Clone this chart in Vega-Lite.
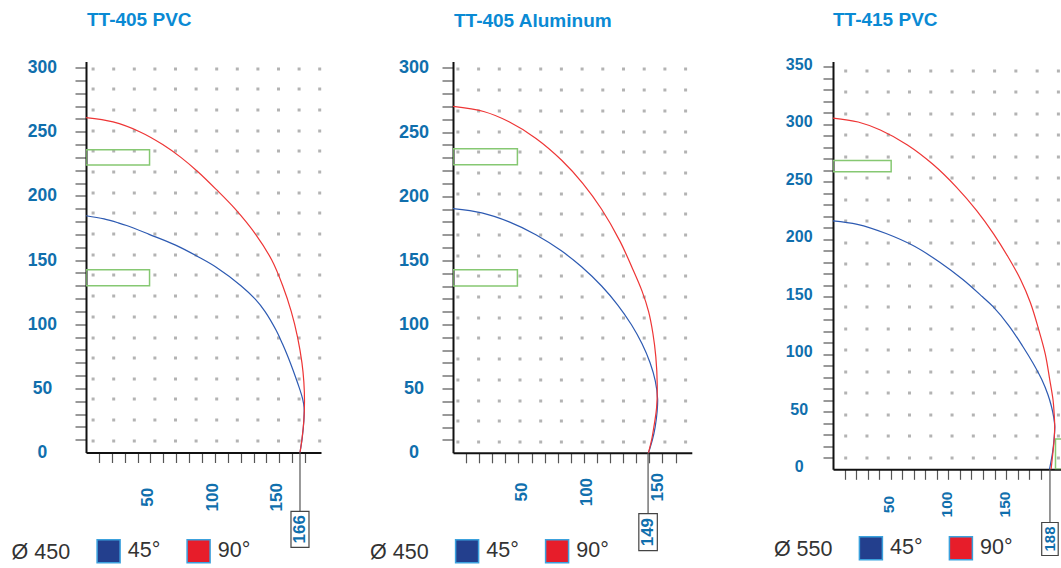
{
  "$schema": "https://vega.github.io/schema/vega-lite/v6.json",
  "padding": {"left": 11, "top": 10.5, "right": 0, "bottom": 0},
  "spacing": 49,
  "datasets": {
    "c1": [
      {"a": "45°", "x": 0, "y": 184.5}, {"a": "45°", "x": 14, "y": 182}, {"a": "45°", "x": 25, "y": 179}, {"a": "45°", "x": 31.5, "y": 176.9}, {"a": "45°", "x": 49, "y": 170}, {"a": "45°", "x": 69.5, "y": 161.6}, {"a": "45°", "x": 88, "y": 152}, {"a": "45°", "x": 101, "y": 144.4}, {"a": "45°", "x": 120.2, "y": 130}, {"a": "45°", "x": 131.3, "y": 119.5}, {"a": "45°", "x": 138.8, "y": 110}, {"a": "45°", "x": 147.6, "y": 95}, {"a": "45°", "x": 152.4, "y": 84.7}, {"a": "45°", "x": 156.5, "y": 75}, {"a": "45°", "x": 162.6, "y": 58.7}, {"a": "45°", "x": 165.6, "y": 50}, {"a": "45°", "x": 168, "y": 42}, {"a": "45°", "x": 169.2, "y": 35}, {"a": "45°", "x": 169, "y": 25}, {"a": "45°", "x": 167.8, "y": 12}, {"a": "45°", "x": 166, "y": 0},
      {"a": "90°", "x": 0, "y": 261}, {"a": "90°", "x": 21, "y": 257.6}, {"a": "90°", "x": 41.6, "y": 250}, {"a": "90°", "x": 59.5, "y": 240}, {"a": "90°", "x": 73.6, "y": 230}, {"a": "90°", "x": 87, "y": 218.6}, {"a": "90°", "x": 101, "y": 205}, {"a": "90°", "x": 115.5, "y": 190}, {"a": "90°", "x": 131.6, "y": 170}, {"a": "90°", "x": 144.1, "y": 150}, {"a": "90°", "x": 152.6, "y": 130}, {"a": "90°", "x": 159.2, "y": 110}, {"a": "90°", "x": 164.1, "y": 90}, {"a": "90°", "x": 167.5, "y": 70}, {"a": "90°", "x": 169, "y": 55}, {"a": "90°", "x": 169.5, "y": 40}, {"a": "90°", "x": 169, "y": 25}, {"a": "90°", "x": 167.5, "y": 10}, {"a": "90°", "x": 166, "y": 0}
    ],
    "c2": [
      {"a": "45°", "x": 0, "y": 190.3}, {"a": "45°", "x": 22, "y": 187}, {"a": "45°", "x": 42.9, "y": 180}, {"a": "45°", "x": 63.3, "y": 170}, {"a": "45°", "x": 82.5, "y": 157.6}, {"a": "45°", "x": 98.2, "y": 145}, {"a": "45°", "x": 113.5, "y": 130}, {"a": "45°", "x": 126, "y": 115}, {"a": "45°", "x": 136.2, "y": 100}, {"a": "45°", "x": 144.4, "y": 85}, {"a": "45°", "x": 150.6, "y": 70}, {"a": "45°", "x": 154.5, "y": 56}, {"a": "45°", "x": 156.3, "y": 42}, {"a": "45°", "x": 155.9, "y": 32}, {"a": "45°", "x": 154.4, "y": 20}, {"a": "45°", "x": 152.3, "y": 10}, {"a": "45°", "x": 149.3, "y": 0},
      {"a": "90°", "x": 0, "y": 270}, {"a": "90°", "x": 23.4, "y": 266}, {"a": "90°", "x": 42.8, "y": 258}, {"a": "90°", "x": 63.4, "y": 245}, {"a": "90°", "x": 83, "y": 228}, {"a": "90°", "x": 99.1, "y": 210}, {"a": "90°", "x": 113.4, "y": 190}, {"a": "90°", "x": 127.5, "y": 165}, {"a": "90°", "x": 136.5, "y": 145}, {"a": "90°", "x": 144.4, "y": 126}, {"a": "90°", "x": 149.4, "y": 110}, {"a": "90°", "x": 152.7, "y": 93}, {"a": "90°", "x": 154.9, "y": 75}, {"a": "90°", "x": 156, "y": 53}, {"a": "90°", "x": 155.5, "y": 35}, {"a": "90°", "x": 153.4, "y": 20}, {"a": "90°", "x": 151.7, "y": 10}, {"a": "90°", "x": 149.3, "y": 0}
    ],
    "c3": [
      {"a": "45°", "x": 0, "y": 216.1}, {"a": "45°", "x": 21.1, "y": 213}, {"a": "45°", "x": 46, "y": 205}, {"a": "45°", "x": 71, "y": 193.7}, {"a": "45°", "x": 92.5, "y": 180}, {"a": "45°", "x": 112.5, "y": 165}, {"a": "45°", "x": 129.5, "y": 150}, {"a": "45°", "x": 138.5, "y": 141.6}, {"a": "45°", "x": 152.3, "y": 125}, {"a": "45°", "x": 164.5, "y": 106.8}, {"a": "45°", "x": 173.5, "y": 92}, {"a": "45°", "x": 181, "y": 77.8}, {"a": "45°", "x": 186.2, "y": 65}, {"a": "45°", "x": 189.3, "y": 54.6}, {"a": "45°", "x": 191.3, "y": 45}, {"a": "45°", "x": 192.2, "y": 37}, {"a": "45°", "x": 191.6, "y": 27}, {"a": "45°", "x": 190.3, "y": 15}, {"a": "45°", "x": 187.6, "y": 0},
      {"a": "90°", "x": 0, "y": 305.4}, {"a": "90°", "x": 21.8, "y": 302}, {"a": "90°", "x": 41, "y": 295}, {"a": "90°", "x": 64.5, "y": 282}, {"a": "90°", "x": 86.8, "y": 265}, {"a": "90°", "x": 107.3, "y": 245}, {"a": "90°", "x": 124.5, "y": 225}, {"a": "90°", "x": 139, "y": 205}, {"a": "90°", "x": 151.5, "y": 185}, {"a": "90°", "x": 162.5, "y": 165}, {"a": "90°", "x": 171, "y": 145}, {"a": "90°", "x": 178.3, "y": 121.3}, {"a": "90°", "x": 184, "y": 100}, {"a": "90°", "x": 187.8, "y": 78}, {"a": "90°", "x": 190.7, "y": 60}, {"a": "90°", "x": 191.6, "y": 48.9}, {"a": "90°", "x": 192.1, "y": 38}, {"a": "90°", "x": 191.6, "y": 25}, {"a": "90°", "x": 190.5, "y": 14}, {"a": "90°", "x": 189, "y": 0}
    ],
    "r1": [{"x": 0, "x2": 49.3, "y": 224, "y2": 236}, {"x": 0, "x2": 49.3, "y": 130, "y2": 142.4}],
    "r2": [{"x": 0, "x2": 49.2, "y": 224.6, "y2": 236.9}, {"x": 0, "x2": 49.2, "y": 130.1, "y2": 142.6}],
    "r3": [{"x": 0, "x2": 50.4, "y": 258.7, "y2": 268.5}, {"x": 192.8, "x2": 215, "y": 0, "y2": 26.3}],
    "m1": [{"v": 166}],
    "m2": [{"v": 149}],
    "m3": [{"v": 188}]
  },
  "resolve": {"scale": {"fill": "independent"}, "legend": {"fill": "independent"}},
  "hconcat": [
    {
      "width": 235, "height": 391,
      "title": {"text": "TT-405 PVC", "offset": 28.3, "dx": 1},
      "resolve": {"axis": {"y": "independent"}},
      "layer": [
        {
          "data": {"name": "r1"},
          "mark": {"type": "rect", "filled": false, "color": "#86c872", "strokeWidth": 1.5, "clip": true},
          "encoding": {
            "x": {"field": "x", "type": "quantitative", "scale": {"domain": [0, 182.3], "nice": false, "zero": false},
              "axis": {"orient": "bottom", "title": null, "tickCount": 100, "values": [10, 20, 30, 40, 50, 60, 70, 80, 90, 100, 110, 120, 130, 140, 150, 160, 170], "tickSize": 10, "labelAngle": 270, "labelAlign": "center", "labelBaseline": "middle", "labelPadding": 34.3, "labelOffset": -2.5, "labelFontSize": {"condition": {"test": "datum.value % 50 !== 0", "value": 0}, "value": 17}, "labelExpr": "datum.value % 50 === 0 ? datum.label : ''", "labelOverlap": false, "labelFlush": false, "grid": false}},
            "x2": {"field": "x2"},
            "y": {"field": "y", "type": "quantitative", "scale": {"domain": [0, 304.7], "nice": false, "zero": false},
              "axis": {"orient": "left", "title": null, "tickCount": 100, "domain": false, "ticks": false, "labels": false, "grid": true, "values": [299.5, 283.4, 267.3, 251.2, 235.1, 218.9, 202.8, 186.7, 170.6, 154.5, 138.4, 122.3, 106.2, 90.0, 73.9, 57.8, 41.7, 25.6, 9.5], "gridColor": "#b3b3b3", "gridWidth": 3, "gridDash": [3, 17.6], "gridDashOffset": 15.5, "gridOpacity": 1, "minExtent": 0, "maxExtent": 0}},
            "y2": {"field": "y2"}
          }
        },
        {
          "data": {"name": "c1"},
          "transform": [{"filter": "datum.a === '45°'"}],
          "mark": {"type": "line", "interpolate": "catmull-rom", "strokeWidth": 1.2, "color": "#2d5ab2"},
          "encoding": {
            "x": {"field": "x", "type": "quantitative"},
            "y": {"field": "y", "type": "quantitative",
              "axis": {"orient": "left", "title": null, "tickCount": 100, "values": [0, 10, 20, 30, 40, 50, 60, 70, 80, 90, 100, 110, 120, 130, 140, 150, 160, 170, 180, 190, 200, 210, 220, 230, 240, 250, 260, 270, 280, 290, 300], "tickSize": 11, "labelPadding": 33.1, "labelAlign": "center", "labelBaseline": "middle", "labelFontSize": 17.5, "labelExpr": "datum.value % 50 === 0 ? datum.label : ''", "labelOverlap": false, "labelFlush": false, "grid": false, "tickOpacity": {"condition": {"test": "datum.value === 0", "value": 0}, "value": 1}}},
            "order": {"field": "y", "sort": "descending"}
          }
        },
        {
          "data": {"name": "c1"},
          "transform": [{"filter": "datum.a === '90°'"}],
          "mark": {"type": "line", "interpolate": "catmull-rom", "strokeWidth": 1.2, "color": "#ee3535"},
          "encoding": {
            "x": {"field": "x", "type": "quantitative"},
            "y": {"field": "y", "type": "quantitative", "axis": null},
            "order": {"field": "y", "sort": "descending"}
          }
        },
        {
          "data": {"name": "c1"},
          "mark": {"type": "point", "shape": "square", "filled": true, "opacity": 0},
          "encoding": {
            "x": {"field": "x", "type": "quantitative"},
            "y": {"field": "y", "type": "quantitative", "axis": null},
            "fill": {"field": "a", "type": "nominal", "scale": {"domain": ["45°", "90°"], "range": ["#233f8d", "#e71d2a"]},
              "legend": {"title": "Ø 450", "orient": "none", "legendX": -74.4, "legendY": 477.2}}
          }
        },
        {
          "data": {"name": "m1"},
          "mark": {"type": "rule", "color": "#555555", "strokeWidth": 1.2, "y2Offset": 59},
          "encoding": {"x": {"field": "v", "type": "quantitative"}, "y": {"datum": 0, "axis": null}, "y2": {"datum": 0}}
        },
        {
          "data": {"name": "m1"},
          "mark": {"type": "point", "shape": "M-0.5,-1H0.5V1H-0.5Z", "size": 1296, "filled": true, "fill": "white", "stroke": "#444444", "strokeWidth": 1.2, "opacity": 1, "yOffset": 76.8},
          "encoding": {"x": {"field": "v", "type": "quantitative"}, "y": {"datum": 0, "axis": null}}
        },
        {
          "data": {"name": "m1"},
          "mark": {"type": "text", "angle": 270, "font": "Liberation Sans", "fontWeight": "bold", "fontSize": 17, "color": "#106fad", "align": "center", "baseline": "middle", "yOffset": 76.8},
          "encoding": {"x": {"field": "v", "type": "quantitative"}, "y": {"datum": 0, "axis": null}, "text": {"field": "v"}}
        }
      ]
    },
    {
      "width": 238.8, "height": 391.3,
      "title": {"text": "TT-405 Aluminum", "offset": 28.3, "dx": 1},
      "resolve": {"axis": {"y": "independent"}},
      "layer": [
        {
          "data": {"name": "r2"},
          "mark": {"type": "rect", "filled": false, "color": "#86c872", "strokeWidth": 1.5, "clip": true},
          "encoding": {
            "x": {"field": "x", "type": "quantitative", "scale": {"domain": [0, 182.4], "nice": false, "zero": false},
              "axis": {"orient": "bottom", "title": null, "tickCount": 100, "values": [10, 20, 30, 40, 50, 60, 70, 80, 90, 100, 110, 120, 130, 140, 150, 160, 170], "tickSize": 10, "labelAngle": 270, "labelAlign": "center", "labelBaseline": "middle", "labelPadding": {"condition": {"test": "datum.value === 150", "value": 24}, "value": 28.8}, "labelOffset": {"condition": {"test": "datum.value === 150", "value": 8}, "value": 3}, "labelFontSize": {"condition": {"test": "datum.value % 50 !== 0", "value": 0}, "value": 17}, "labelExpr": "datum.value % 50 === 0 ? datum.label : ''", "labelOverlap": false, "labelFlush": false, "grid": false}},
            "x2": {"field": "x2"},
            "y": {"field": "y", "type": "quantitative", "scale": {"domain": [0, 305], "nice": false, "zero": false},
              "axis": {"orient": "left", "title": null, "tickCount": 100, "domain": false, "ticks": false, "labels": false, "grid": true, "values": [299.2, 283.1, 266.9, 250.8, 234.7, 218.6, 202.4, 186.3, 170.2, 154.0, 137.9, 121.8, 105.6, 89.5, 73.4, 57.3, 41.1, 25.0, 8.9], "gridColor": "#b3b3b3", "gridWidth": 3, "gridDash": [3, 17.7], "gridDashOffset": 17.8, "gridOpacity": 1, "minExtent": 0, "maxExtent": 0}},
            "y2": {"field": "y2"}
          }
        },
        {
          "data": {"name": "c2"},
          "transform": [{"filter": "datum.a === '45°'"}],
          "mark": {"type": "line", "interpolate": "catmull-rom", "strokeWidth": 1.2, "color": "#2d5ab2"},
          "encoding": {
            "x": {"field": "x", "type": "quantitative"},
            "y": {"field": "y", "type": "quantitative",
              "axis": {"orient": "left", "title": null, "tickCount": 100, "values": [0, 10, 20, 30, 40, 50, 60, 70, 80, 90, 100, 110, 120, 130, 140, 150, 160, 170, 180, 190, 200, 210, 220, 230, 240, 250, 260, 270, 280, 290, 300], "tickSize": 11, "labelPadding": 28.4, "labelAlign": "center", "labelBaseline": "middle", "labelFontSize": 18, "labelExpr": "datum.value % 50 === 0 ? datum.label : ''", "labelOverlap": false, "labelFlush": false, "grid": false, "tickOpacity": {"condition": {"test": "datum.value === 0", "value": 0}, "value": 1}}},
            "order": {"field": "y", "sort": "descending"}
          }
        },
        {
          "data": {"name": "c2"},
          "transform": [{"filter": "datum.a === '90°'"}],
          "mark": {"type": "line", "interpolate": "catmull-rom", "strokeWidth": 1.2, "color": "#ee3535"},
          "encoding": {
            "x": {"field": "x", "type": "quantitative"},
            "y": {"field": "y", "type": "quantitative", "axis": null},
            "order": {"field": "y", "sort": "descending"}
          }
        },
        {
          "data": {"name": "c2"},
          "mark": {"type": "point", "shape": "square", "filled": true, "opacity": 0},
          "encoding": {
            "x": {"field": "x", "type": "quantitative"},
            "y": {"field": "y", "type": "quantitative", "axis": null},
            "fill": {"field": "a", "type": "nominal", "scale": {"domain": ["45°", "90°"], "range": ["#233f8d", "#e71d2a"]},
              "legend": {"title": "Ø 450", "orient": "none", "legendX": -82.9, "legendY": 477.2}}
          }
        },
        {
          "data": {"name": "m2"},
          "mark": {"type": "rule", "color": "#555555", "strokeWidth": 1.2, "y2Offset": 61},
          "encoding": {"x": {"field": "v", "type": "quantitative"}, "y": {"datum": 0, "axis": null}, "y2": {"datum": 0}}
        },
        {
          "data": {"name": "m2"},
          "mark": {"type": "point", "shape": "M-0.5,-1H0.5V1H-0.5Z", "size": 1369, "filled": true, "fill": "white", "stroke": "#444444", "strokeWidth": 1.2, "opacity": 1, "yOffset": 79.3},
          "encoding": {"x": {"field": "v", "type": "quantitative"}, "y": {"datum": 0, "axis": null}}
        },
        {
          "data": {"name": "m2"},
          "mark": {"type": "text", "angle": 270, "font": "Liberation Sans", "fontWeight": "bold", "fontSize": 17, "color": "#106fad", "align": "center", "baseline": "middle", "yOffset": 79.3},
          "encoding": {"x": {"field": "v", "type": "quantitative"}, "y": {"datum": 0, "axis": null}, "text": {"field": "v"}}
        }
      ]
    },
    {
      "width": 228.5, "height": 407.8,
      "title": {"text": "TT-415 PVC", "offset": 25.8, "dx": 0},
      "resolve": {"axis": {"y": "independent"}},
      "layer": [
        {
          "data": {"name": "r3"},
          "mark": {"type": "rect", "filled": false, "color": "#86c872", "strokeWidth": 1.5, "clip": true},
          "encoding": {
            "x": {"field": "x", "type": "quantitative", "scale": {"domain": [0, 198], "nice": false, "zero": false},
              "axis": {"orient": "bottom", "title": null, "tickCount": 100, "values": [10, 20, 30, 40, 50, 60, 70, 80, 90, 100, 110, 120, 130, 140, 150, 160, 170, 180], "tickSize": 10, "labelAngle": 270, "labelAlign": "center", "labelBaseline": "middle", "labelPadding": 24.7, "labelOffset": -2, "labelFontSize": {"condition": {"test": "datum.value % 50 !== 0", "value": 0}, "value": 15.5}, "labelExpr": "datum.value % 50 === 0 ? datum.label : ''", "labelOverlap": false, "labelFlush": false, "grid": false}},
            "x2": {"field": "x2"},
            "y": {"field": "y", "type": "quantitative", "scale": {"domain": [0, 354.6], "nice": false, "zero": false},
              "axis": {"orient": "left", "title": null, "tickCount": 100, "domain": false, "ticks": false, "labels": false, "grid": true, "values": [346.8, 328.1, 309.4, 290.8, 272.1, 253.4, 234.7, 216.1, 197.4, 178.7, 160.0, 141.4, 122.7, 104.0, 85.3, 66.7, 48.0, 29.3, 10.6], "gridColor": "#b3b3b3", "gridWidth": 3, "gridDash": [3, 18.27], "gridDashOffset": 10.57, "gridOpacity": 1, "minExtent": 0, "maxExtent": 0}},
            "y2": {"field": "y2"}
          }
        },
        {
          "data": {"name": "c3"},
          "transform": [{"filter": "datum.a === '45°'"}],
          "mark": {"type": "line", "interpolate": "catmull-rom", "strokeWidth": 1.2, "color": "#2d5ab2"},
          "encoding": {
            "x": {"field": "x", "type": "quantitative"},
            "y": {"field": "y", "type": "quantitative",
              "axis": {"orient": "left", "title": null, "tickCount": 100, "values": [0, 10, 20, 30, 40, 50, 60, 70, 80, 90, 100, 110, 120, 130, 140, 150, 160, 170, 180, 190, 200, 210, 220, 230, 240, 250, 260, 270, 280, 290, 300, 310, 320, 330, 340, 350], "tickSize": 10, "labelPadding": 24.3, "labelOffset": -2.5, "labelAlign": "center", "labelBaseline": "middle", "labelFontSize": 16, "labelExpr": "datum.value % 50 === 0 ? datum.label : ''", "labelOverlap": false, "labelFlush": false, "grid": false, "minExtent": 91.2, "tickOpacity": {"condition": {"test": "datum.value === 0", "value": 0}, "value": 1}}},
            "order": {"field": "y", "sort": "descending"}
          }
        },
        {
          "data": {"name": "c3"},
          "transform": [{"filter": "datum.a === '90°'"}],
          "mark": {"type": "line", "interpolate": "catmull-rom", "strokeWidth": 1.2, "color": "#ee3535"},
          "encoding": {
            "x": {"field": "x", "type": "quantitative"},
            "y": {"field": "y", "type": "quantitative", "axis": null},
            "order": {"field": "y", "sort": "descending"}
          }
        },
        {
          "data": {"name": "c3"},
          "mark": {"type": "point", "shape": "square", "filled": true, "opacity": 0},
          "encoding": {
            "x": {"field": "x", "type": "quantitative"},
            "y": {"field": "y", "type": "quantitative", "axis": null},
            "fill": {"field": "a", "type": "nominal", "scale": {"domain": ["45°", "90°"], "range": ["#233f8d", "#e71d2a"]},
              "legend": {"title": "Ø 550", "orient": "none", "legendX": -59.1, "legendY": 474.3}}
          }
        },
        {
          "data": {"name": "m3"},
          "mark": {"type": "rule", "color": "#555555", "strokeWidth": 1.2, "y2Offset": 53.2},
          "encoding": {"x": {"field": "v", "type": "quantitative"}, "y": {"datum": 0, "axis": null}, "y2": {"datum": 0}}
        },
        {
          "data": {"name": "m3"},
          "mark": {"type": "point", "shape": "M-0.5,-1H0.5V1H-0.5Z", "size": 1089, "filled": true, "fill": "white", "stroke": "#444444", "strokeWidth": 1.2, "opacity": 1, "yOffset": 69.7},
          "encoding": {"x": {"field": "v", "type": "quantitative"}, "y": {"datum": 0, "axis": null}}
        },
        {
          "data": {"name": "m3"},
          "mark": {"type": "text", "angle": 270, "font": "Liberation Sans", "fontWeight": "bold", "fontSize": 15, "color": "#106fad", "align": "center", "baseline": "middle", "yOffset": 69.7},
          "encoding": {"x": {"field": "v", "type": "quantitative"}, "y": {"datum": 0, "axis": null}, "text": {"field": "v"}}
        }
      ]
    }
  ],
  "config": {
    "view": {"stroke": null},
    "axis": {"labelFont": "Liberation Sans", "labelFontWeight": "bold", "labelColor": "#106fad", "domainColor": "#111111", "domainWidth": 2, "tickColor": "#555555", "tickWidth": 1.2, "labelOverlap": false, "labelFlush": false},
    "legend": {"direction": "horizontal", "titleOrient": "left", "titleAnchor": "middle", "titleBaseline": "middle", "titlePadding": 25.5, "symbolType": "square", "symbolSize": 529, "symbolOpacity": 1, "symbolStrokeWidth": 1.5, "symbolStrokeColor": "#3ba1dd", "labelOffset": 6.7, "columnPadding": 23, "padding": 0, "labelFont": "Liberation Sans", "labelFontSize": 21.5, "labelColor": "#333333", "titleFont": "Liberation Sans", "titleFontSize": 21.5, "titleFontWeight": "normal", "titleColor": "#333333"},
    "title": {"font": "Liberation Sans", "fontSize": 19, "fontWeight": "bold", "color": "#0a8ad4", "anchor": "start", "frame": "group", "baseline": "alphabetic"}
  }
}
